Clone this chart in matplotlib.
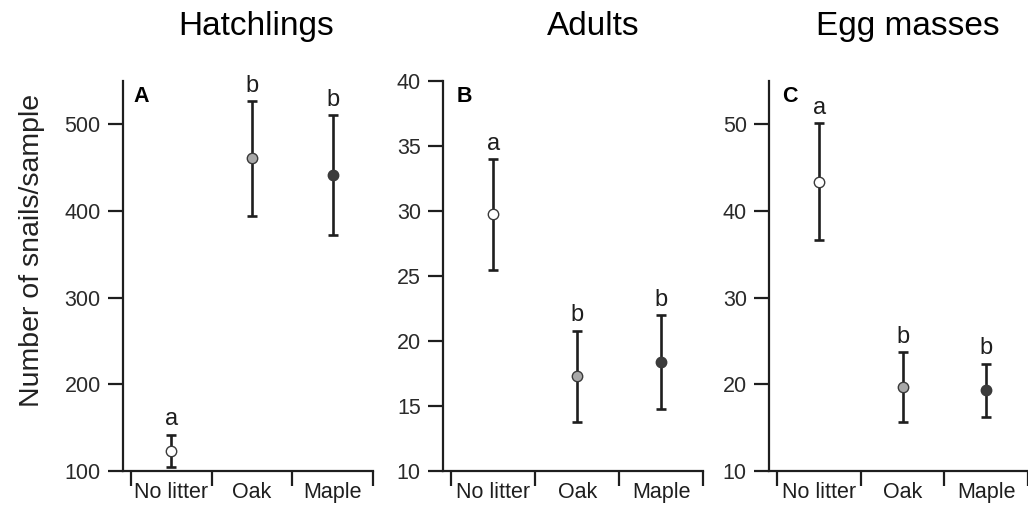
import matplotlib
matplotlib.use("Agg")
import matplotlib.pyplot as plt

plt.rcParams['font.family'] = ['Liberation Sans', 'DejaVu Sans']

categories = ['No litter', 'Oak', 'Maple']
fills = ['white', '#a8a8a8', '#3c3c3c']

# hatchlings (panel A)
hatch_mean = [123, 461, 441]
hatch_lo = [105, 394, 372]
hatch_hi = [142, 527, 511]
hatch_grp = ['a', 'b', 'b']

# adults (panel B)
adult_mean = [29.8, 17.3, 18.4]
adult_lo = [25.5, 13.8, 14.8]
adult_hi = [34.0, 20.8, 22.0]
adult_grp = ['a', 'b', 'b']

# egg masses (panel C)
egg_mean = [43.4, 19.7, 19.4]
egg_lo = [36.7, 15.6, 16.2]
egg_hi = [50.1, 23.7, 22.4]
egg_grp = ['a', 'b', 'b']

ink = '#1e1e1e'
W, H = 1028, 508
fig = plt.figure(figsize=(W / 100, H / 100), dpi=100)

panels = [
    # left px, width px, title, title centre px, data, ylim, yticks, letter, letter x
    (123, 250, 'Hatchlings', 256, (hatch_mean, hatch_lo, hatch_hi, hatch_grp),
     (100, 550), range(100, 501, 100), 'A', 0.04),
    (443, 260, 'Adults', 593, (adult_mean, adult_lo, adult_hi, adult_grp),
     (10, 40), range(10, 41, 5), 'B', 0.054),
    (769, 259, 'Egg masses', 908, (egg_mean, egg_lo, egg_hi, egg_grp),
     (10, 55), range(10, 51, 10), 'C', 0.05),
]

bottom_px, top_px = 471, 81
for left, width, title, tx, (mean, lo, hi, grp), ylim, yticks, letter, lx in panels:
    ax = fig.add_axes([left / W, 1 - bottom_px / H, width / W, (bottom_px - top_px) / H])
    x = list(range(len(categories)))
    err = [[m - l for m, l in zip(mean, lo)], [h - m for h, m in zip(hi, mean)]]
    ax.errorbar(x, mean, yerr=err, fmt='none', ecolor=ink, elinewidth=1.9,
                capsize=3.4, capthick=1.9, zorder=2)
    for xi, m, c in zip(x, mean, fills):
        ax.plot(xi, m, marker='o', ms=7.5, mfc=c, mec='#3a3a3a', mew=1.0, zorder=3)
    for xi, h, g in zip(x, hi, grp):
        ax.annotate(g, (xi, h), xytext=(0, 3), textcoords='offset points',
                    ha='center', va='bottom', fontsize=17, color=ink)

    ax.set_xlim(-0.6, 2.5)
    ax.set_ylim(*ylim)
    ax.set_yticks(list(yticks))
    ax.set_xticks(x)
    ax.set_xticklabels(categories)
    ax.set_xticks([-0.5, 0.5, 1.5, 2.5], minor=True)
    ax.tick_params(axis='x', which='major', length=0, pad=8, labelsize=15.5, labelcolor=ink)
    ax.tick_params(axis='x', which='minor', length=11, width=1.6, color=ink, direction='out')
    ax.tick_params(axis='y', length=11, width=1.6, color=ink, pad=5, labelsize=15.5,
                   labelcolor='#2a2a2a')
    for s in ['top', 'right']:
        ax.spines[s].set_visible(False)
    for s in ['left', 'bottom']:
        ax.spines[s].set_linewidth(1.6)
        ax.spines[s].set_color(ink)

    ax.text(lx, 0.946, letter, transform=ax.transAxes, fontsize=15.5,
            fontweight='bold', va='baseline', ha='left', color='black')
    fig.text(tx / W, 1 - 35 / H, title, ha='center', va='baseline', fontsize=24,
             color='black')

fig.text(32 / W, 1 - 250 / H, 'Number of snails/sample', rotation=90,
         ha='center', va='center', fontsize=20.5, color='#222222')

fig.savefig('out.png', dpi=100)
